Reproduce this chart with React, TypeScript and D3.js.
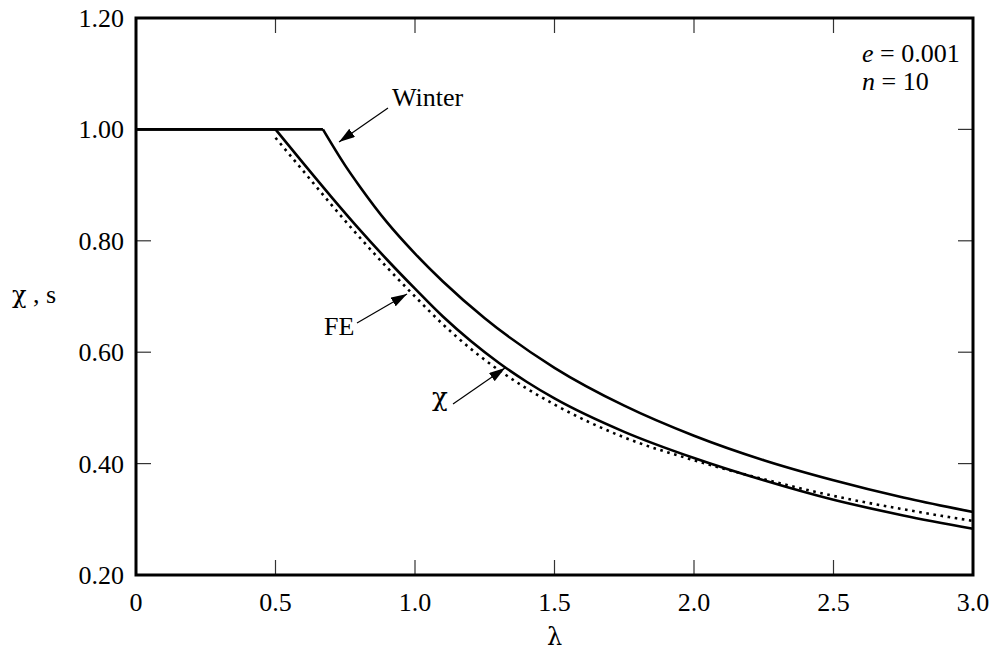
import React, { useEffect, useRef } from 'react';
import * as d3 from 'd3';

// λ values and the three curves
const winterX = [0, 0.67, 0.75, 0.8, 0.9, 1.0, 1.1, 1.25, 1.5, 1.75, 2.0, 2.25, 2.5, 2.75, 3.0];
const winterY = [1.0, 1.0, 0.935, 0.899, 0.833, 0.777, 0.727, 0.661, 0.572, 0.504, 0.45, 0.406, 0.37, 0.339, 0.313];

const feX = [0, 0.5, 0.6, 0.7, 0.8, 0.9, 1.0, 1.1, 1.2, 1.3, 1.4, 1.5, 1.75, 2.0, 2.25, 2.5, 2.75, 3.0];
const feY = [1.0, 1.0, 0.939, 0.879, 0.821, 0.766, 0.714, 0.664, 0.62, 0.581, 0.547, 0.517, 0.457, 0.41, 0.37, 0.335, 0.307, 0.283];

const chiX = [0.5, 0.6, 0.7, 0.8, 0.9, 1.0, 1.1, 1.2, 1.3, 1.4, 1.5, 1.75, 2.0, 2.25, 2.5, 2.75, 3.0];
const chiY = [0.985, 0.925, 0.865, 0.807, 0.752, 0.7, 0.65, 0.606, 0.568, 0.535, 0.506, 0.447, 0.406, 0.372, 0.342, 0.318, 0.297];

const xTicks = [0, 0.5, 1.0, 1.5, 2.0, 2.5, 3.0];
const xTickLabels = ['0', '0.5', '1.0', '1.5', '2.0', '2.5', '3.0'];
const yTicks = [0.2, 0.4, 0.6, 0.8, 1.0, 1.2];
const yTickLabels = ['0.20', '0.40', '0.60', '0.80', '1.00', '1.20'];

const W = 998;
const H = 652;
const FONT = '"Liberation Serif", "Times New Roman", serif';
const GREEK = '"DejaVu Serif", "Liberation Serif", serif';

export default function App() {
  const ref = useRef<SVGSVGElement | null>(null);

  useEffect(() => {
    const svg = d3.select(ref.current);
    svg.selectAll('*').remove();

    const x = d3.scaleLinear().domain([0, 3]).range([136, 973]);
    const y = d3.scaleLinear().domain([0.2, 1.2]).range([575, 18]);

    // arrow marker
    svg.append('defs').append('marker')
      .attr('id', 'head')
      .attr('viewBox', '0 0 16 10')
      .attr('refX', 16)
      .attr('refY', 5)
      .attr('markerWidth', 16)
      .attr('markerHeight', 10)
      .attr('markerUnits', 'userSpaceOnUse')
      .attr('orient', 'auto')
      .append('path')
      .attr('d', 'M0,0 L16,5 L0,10 Z')
      .attr('fill', '#000');

    // ticks, inside on all four sides
    const tl = 15;
    const tg = svg.append('g').attr('stroke', '#333').attr('stroke-width', 1.2);
    xTicks.forEach(t => {
      tg.append('line').attr('x1', x(t)).attr('x2', x(t)).attr('y1', 575).attr('y2', 575 - tl);
      tg.append('line').attr('x1', x(t)).attr('x2', x(t)).attr('y1', 18).attr('y2', 18 + tl);
    });
    yTicks.forEach(t => {
      tg.append('line').attr('x1', 136).attr('x2', 136 + tl).attr('y1', y(t)).attr('y2', y(t));
      tg.append('line').attr('x1', 973).attr('x2', 973 - tl).attr('y1', y(t)).attr('y2', y(t));
    });

    // curves: flat part drawn straight, falling part smoothed
    const pts = (xs: number[], ys: number[]) => xs.map((v, i) => [v, ys[i]] as [number, number]);
    const lin = d3.line<[number, number]>().x(d => x(d[0])).y(d => y(d[1]));
    const smooth = d3.line<[number, number]>().x(d => x(d[0])).y(d => y(d[1])).curve(d3.curveMonotoneX);

    const drawCurve = (p: [number, number][], dash?: string) => {
      let corner = 0;
      p.forEach((d, i) => { if (d[1] >= 1) corner = i; });
      const g = svg.append('g').attr('fill', 'none').attr('stroke', '#000').attr('stroke-width', 2.6);
      if (corner > 0) g.append('path').attr('d', lin(p.slice(0, corner + 1)));
      const path = g.append('path').attr('d', smooth(p.slice(corner)));
      if (dash) path.attr('stroke-dasharray', dash);
    };
    drawCurve(pts(winterX, winterY));
    drawCurve(pts(feX, feY));
    drawCurve(pts(chiX, chiY), '2.6,4.6');

    // frame
    svg.append('rect')
      .attr('x', 136).attr('y', 18).attr('width', 973 - 136).attr('height', 575 - 18)
      .attr('fill', 'none').attr('stroke', '#000').attr('stroke-width', 3);

    const text = (s: string, tx: number, ty: number, anchor = 'start', family = FONT, size = 26) =>
      svg.append('text')
        .attr('x', tx).attr('y', ty)
        .attr('text-anchor', anchor)
        .attr('font-family', family)
        .attr('font-size', size)
        .attr('fill', '#000')
        .text(s);

    xTicks.forEach((t, i) => text(xTickLabels[i], x(t), 611, 'middle'));
    yTicks.forEach((t, i) => text(yTickLabels[i], 124, y(t) + 9, 'end'));

    text('λ', x(1.5), 645, 'middle', GREEK, 24);
    const yl = svg.append('text').attr('x', 12).attr('y', 303)
      .attr('font-family', FONT).attr('font-size', 26);
    yl.append('tspan').attr('font-family', GREEK).attr('font-size', 24).text('χ');
    yl.append('tspan').text(' , s');

    // parameter box
    const p1 = svg.append('text').attr('x', 862).attr('y', 62)
      .attr('font-family', FONT).attr('font-size', 26);
    p1.append('tspan').attr('font-style', 'italic').text('e');
    p1.append('tspan').text(' = 0.001');
    const p2 = svg.append('text').attr('x', 862).attr('y', 90)
      .attr('font-family', FONT).attr('font-size', 26);
    p2.append('tspan').attr('font-style', 'italic').text('n');
    p2.append('tspan').text(' = 10');

    // annotations
    const arrow = (x1: number, y1: number, x2: number, y2: number) =>
      svg.append('line')
        .attr('x1', x1).attr('y1', y1).attr('x2', x2).attr('y2', y2)
        .attr('stroke', '#000').attr('stroke-width', 1.2)
        .attr('marker-end', 'url(#head)');

    text('Winter', 392, 106);
    arrow(388, 108, 339, 142);
    text('FE', 324, 335);
    arrow(357, 323, 407, 294);
    text('χ', 432, 406, 'start', GREEK, 26);
    arrow(453, 404, 505, 368);
  }, []);

  return (
    <svg ref={ref} width={W} height={H}
      style={{ position: 'absolute', left: 0, top: 0, background: '#fff' }} />
  );
}
